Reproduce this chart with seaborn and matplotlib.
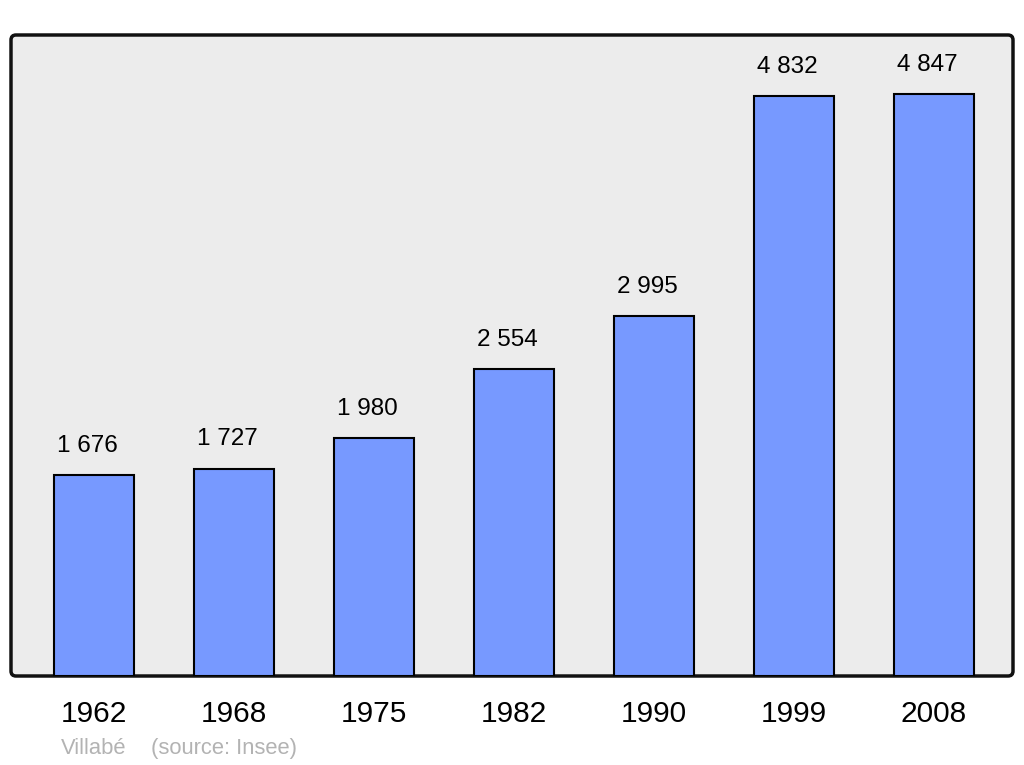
import numpy as np
import pandas as pd
import seaborn as sns
import matplotlib.pyplot as plt
from matplotlib.patches import FancyBboxPatch

years = ['1962', '1968', '1975', '1982', '1990', '1999', '2008']
population = [1676, 1727, 1980, 2554, 2995, 4832, 4847]
value_labels = ['1 676', '1 727', '1 980', '2 554', '2 995', '4 832', '4 847']

df = pd.DataFrame({'year': years, 'population': population})

sns.set_style('white')
plt.rcParams['font.family'] = ['Liberation Sans', 'DejaVu Sans']

fig = plt.figure(figsize=(10.24, 7.65), dpi=100)
ax = fig.add_axes([11 / 1024, 89 / 765, 1002 / 1024, 641 / 765])
ax.set_facecolor('none')

# grey rounded panel behind the bars
panel = FancyBboxPatch((0, 0), 1, 1, boxstyle='round,pad=0,rounding_size=0.005',
                       mutation_aspect=1002 / 641, transform=ax.transAxes,
                       facecolor='#ececec', edgecolor='#111111', linewidth=2.5,
                       clip_on=False, zorder=0)
ax.add_patch(panel)

sns.barplot(data=df, x='year', y='population', color='#7799ff', saturation=1,
            width=0.571, edgecolor='black', linewidth=1.5, ax=ax, zorder=2)

for i, (v, lab) in enumerate(zip(population, value_labels)):
    ax.annotate(lab, (i, v), xytext=(-5, 21), textcoords='offset points',
                ha='center', va='center', fontsize=17.5, color='black')

ax.set_xlim(-0.593, 6.564)
ax.set_ylim(0, 5338)
for s in ax.spines.values():
    s.set_visible(False)
ax.set_yticks([])
ax.set_xlabel('')
ax.set_ylabel('')
ax.tick_params(axis='x', length=0, pad=17, labelsize=21.5, colors='black')

fig.text(94 / 1024, 1 - 754 / 765, 'Villabé', ha='center', va='baseline',
         fontsize=15.8, color='#b3b3b3')
fig.text(151 / 1024, 1 - 754 / 765, '(source: Insee)', ha='left', va='baseline',
         fontsize=15.8, color='#b3b3b3')

fig.savefig('out.png', dpi=100, facecolor='white')
